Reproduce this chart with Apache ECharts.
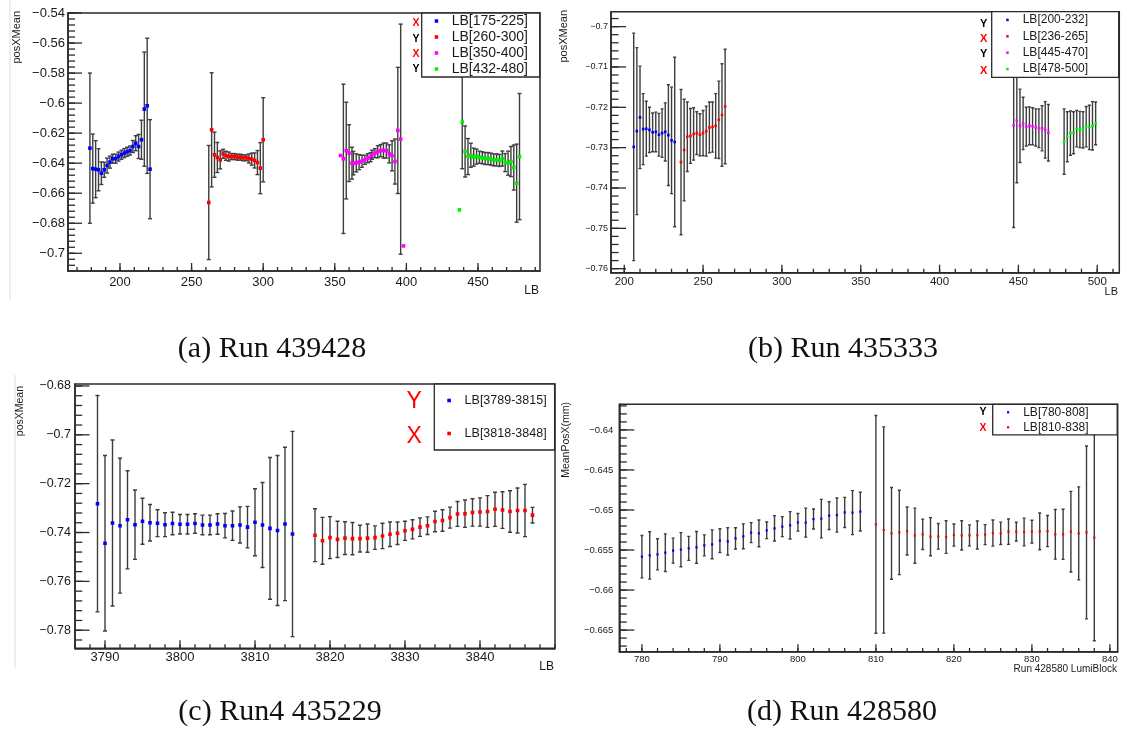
<!DOCTYPE html>
<html>
<head>
<meta charset="utf-8">
<script src="https://cdn.jsdelivr.net/npm/echarts@6/dist/echarts.min.js"></script>
<style>
  html, body { margin: 0; padding: 0; background: #fff; }
  #chart { width: 1127px; height: 742px; }
</style>
</head>
<body>
<div id="chart"></div>
<script>
// ---------- (a) Run 439428 ----------
const aBlueLB   = [179,181,183,185,187,189,191,193,195,197,199,201,203,205,207,209,211,213,215,217,219,221];
const aBlueMean = [-0.6300,-0.6436,-0.6440,-0.6444,-0.6467,-0.6444,-0.6416,-0.6393,-0.6370,-0.6370,-0.6356,-0.6344,-0.6333,-0.6324,-0.6316,-0.6289,-0.6267,-0.6289,-0.6244,-0.6040,-0.6018,-0.6440];
const aBlueErr  = [0.050,0.023,0.019,0.014,0.0075,0.005,0.005,0.004,0.003,0.003,0.003,0.003,0.003,0.003,0.003,0.004,0.005,0.008,0.013,0.038,0.045,0.033];

const aRedLB   = [262,264,266,268,270,272,274,276,278,280,282,284,286,288,290,292,294,296,298,300];
const aRedMean = [-0.6662,-0.6178,-0.6344,-0.6362,-0.6378,-0.6338,-0.6351,-0.6356,-0.6356,-0.6356,-0.6360,-0.6360,-0.6364,-0.6364,-0.6369,-0.6373,-0.6382,-0.6396,-0.6433,-0.6244];
const aRedErr  = [0.038,0.038,0.015,0.010,0.006,0.003,0.003,0.003,0.002,0.002,0.002,0.002,0.002,0.002,0.003,0.004,0.005,0.008,0.017,0.028];

const aMagLB   = [354,356,358,360,362,363,365,367,369,371,373,375,376,378,380,382,384,386,388,390,392,394,396,398];
const aMagMean = [-0.6349,-0.6371,-0.6316,-0.6333,-0.6400,-0.6400,-0.6398,-0.6393,-0.6387,-0.6378,-0.6367,-0.6360,-0.6344,-0.6333,-0.6324,-0.6316,-0.6316,-0.6316,-0.6338,-0.6351,-0.6389,-0.6182,-0.6240,-0.6951];
const aMagErr  = [0,0.0497,0.0322,0.0189,0.0106,0.0078,0.006,0.005,0.004,0.003,0.003,0.003,0.003,0.003,0.004,0.004,0.005,0.005,0.006,0.010,0.015,0.042,0.0766,0];

const aGreenLB   = [437,439,441,443,445,447,449,451,453,455,457,459,461,463,465,467,469,471,473,475,477,479];
const aGreenMean = [-0.6711,-0.6127,-0.6322,-0.6356,-0.6347,-0.6360,-0.6356,-0.6360,-0.6364,-0.6369,-0.6369,-0.6373,-0.6378,-0.6378,-0.6382,-0.6369,-0.6396,-0.6400,-0.6389,-0.6429,-0.6533,-0.6356];
const aGreenErr  = [0,0.031,0.017,0.012,0.008,0.006,0.005,0.004,0.004,0.004,0.004,0.004,0.004,0.004,0.004,0.005,0.006,0.008,0.010,0.015,0.026,0.042];

const aXTicks = [200,250,300,350,400,450];
const aYTicks = [-0.70,-0.68,-0.66,-0.64,-0.62,-0.60,-0.58,-0.56,-0.54];

// ---------- (b) Run 435333 ----------
const bBlueLB   = [206,208,210,212,214,216,218,220,222,224,226,228,230,232];
const bBlueMean = [-0.7298,-0.7259,-0.7225,-0.7254,-0.7253,-0.7256,-0.7262,-0.7261,-0.7268,-0.7264,-0.7261,-0.7269,-0.7282,-0.7286];
const bBlueErr  = [0.0282,0.0207,0.0127,0.0088,0.0068,0.0056,0.0048,0.0049,0.0053,0.0060,0.0072,0.0125,0.0132,0.0210];

const bRedLB   = [236,238,240,242,244,246,248,250,252,254,256,258,260,262,264];
const bRedMean = [-0.7336,-0.7306,-0.7273,-0.7271,-0.7266,-0.7264,-0.7268,-0.7264,-0.7259,-0.7250,-0.7249,-0.7246,-0.7231,-0.7219,-0.7198];
const bRedErr  = [0.0180,0.0126,0.0086,0.0068,0.0065,0.0053,0.0052,0.0056,0.0062,0.0063,0.0062,0.0080,0.0096,0.0127,0.0142];

const bMagLB   = [447,449,451,453,455,457,459,461,463,465,467,469];
const bMagMean = [-0.7245,-0.7233,-0.7246,-0.7240,-0.7248,-0.7246,-0.7247,-0.7250,-0.7252,-0.7252,-0.7256,-0.7263];
const bMagErr  = [0.0253,0.0154,0.0091,0.0065,0.0048,0.0047,0.0046,0.0046,0.0048,0.0056,0.0070,0.0070];

const bGreenLB   = [479,481,483,485,487,489,491,493,495,497,499];
const bGreenMean = [-0.7285,-0.7273,-0.7264,-0.7263,-0.7253,-0.7255,-0.7256,-0.7248,-0.7250,-0.7246,-0.7240];
const bGreenErr  = [0.0081,0.0062,0.0055,0.0052,0.0045,0.0045,0.0045,0.0050,0.0055,0.0060,0.0053];

const bXTicks = [200,250,300,350,400,450,500];
const bYTicks = [-0.76,-0.75,-0.74,-0.73,-0.72,-0.71,-0.70];

// ---------- (c) Run4 435229 ----------
const cBlueLB   = [3789,3790,3791,3792,3793,3794,3795,3796,3797,3798,3799,3800,3801,3802,3803,3804,3805,3806,3807,3808,3809,3810,3811,3812,3813,3814,3815];
const cBlueMean = [-0.7282,-0.7444,-0.7361,-0.7372,-0.7348,-0.7368,-0.7354,-0.7360,-0.7362,-0.7368,-0.7363,-0.7366,-0.7366,-0.7363,-0.7369,-0.7369,-0.7365,-0.7372,-0.7372,-0.7369,-0.7378,-0.7358,-0.7369,-0.7383,-0.7392,-0.7365,-0.7406];
const cBlueErr  = [0.0443,0.0359,0.0340,0.0276,0.0201,0.0142,0.0094,0.0075,0.0055,0.0049,0.0046,0.0040,0.0040,0.0040,0.0040,0.0040,0.0042,0.0050,0.0060,0.0074,0.0085,0.0137,0.0174,0.0290,0.0307,0.0314,0.0420];

const cRedLB   = [3818,3819,3820,3821,3822,3823,3824,3825,3826,3827,3828,3829,3830,3831,3832,3833,3834,3835,3836,3837,3838,3839,3840,3841,3842,3843,3844,3845,3846,3847];
const cRedMean = [-0.7411,-0.7434,-0.7421,-0.7428,-0.7423,-0.7425,-0.7425,-0.7423,-0.7421,-0.7414,-0.7407,-0.7403,-0.7393,-0.7387,-0.7378,-0.7372,-0.7355,-0.7351,-0.7339,-0.7324,-0.7323,-0.7318,-0.7316,-0.7314,-0.7305,-0.7308,-0.7314,-0.7310,-0.7310,-0.7329];
const cRedErr  = [0.0108,0.0096,0.0086,0.0074,0.0067,0.0066,0.0055,0.0058,0.0048,0.0052,0.0050,0.0046,0.0039,0.0039,0.0038,0.0036,0.0042,0.0044,0.0043,0.0051,0.0056,0.0056,0.0058,0.0065,0.0070,0.0075,0.0085,0.0092,0.0107,0.0032];

const cXTicks = [3790,3800,3810,3820,3830,3840];
const cYTicks = [-0.78,-0.76,-0.74,-0.72,-0.70,-0.68];

// ---------- (d) Run 428580 ----------
const dBlueLB   = [780,781,782,783,784,785,786,787,788,789,790,791,792,793,794,795,796,797,798,799,800,801,802,803,804,805,806,807,808];
const dBlueMean = [-0.65583,-0.65567,-0.65554,-0.65533,-0.65508,-0.65496,-0.65479,-0.65467,-0.65442,-0.65429,-0.65383,-0.65392,-0.65354,-0.65329,-0.65283,-0.65292,-0.65254,-0.65229,-0.65208,-0.65192,-0.65154,-0.65158,-0.65113,-0.65108,-0.65071,-0.65063,-0.65030,-0.65033,-0.65021];
const dBlueErr  = [0.00265,0.00296,0.00194,0.00235,0.00156,0.00213,0.00150,0.00198,0.00131,0.00181,0.00148,0.00171,0.00133,0.00156,0.00125,0.00167,0.00104,0.00158,0.00125,0.00171,0.00110,0.00181,0.00125,0.00240,0.00173,0.00213,0.00188,0.00275,0.00242];

const dRedLB   = [810,811,812,813,814,815,816,817,818,819,820,821,822,823,824,825,826,827,828,829,830,831,832,833,834,835,836,837,838];
const dRedMean = [-0.65179,-0.65250,-0.65292,-0.65280,-0.65263,-0.65321,-0.65304,-0.65333,-0.65329,-0.65338,-0.65313,-0.65317,-0.65317,-0.65313,-0.65308,-0.65288,-0.65292,-0.65271,-0.65271,-0.65275,-0.65271,-0.65267,-0.65263,-0.65304,-0.65304,-0.65271,-0.65292,-0.65280,-0.65346];
const dRedErr  = [0.01360,0.01288,0.00573,0.00527,0.00300,0.00344,0.00190,0.00238,0.00160,0.00204,0.00138,0.00183,0.00131,0.00175,0.00125,0.00163,0.00140,0.00158,0.00117,0.00173,0.00142,0.00229,0.00194,0.00310,0.00313,0.00504,0.00581,0.01080,0.01288];

const dXTicks = [780,790,800,810,820,830,840];
const dYTicks = [-0.665,-0.66,-0.655,-0.65,-0.645,-0.64];

// ---------- drawing ----------
const SANS  = '"Liberation Sans", Arial, Helvetica, sans-serif';
const SERIF = '"Liberation Serif", "DejaVu Serif", serif';
const INK = '#2a2a2a';
const fmtY = v => (v < 0 ? '\u2212' : '') + String(+Math.abs(v).toFixed(4));
const fmtX = v => String(+(+v).toFixed(3));

function steps(from, to, step) {
  const out = [];
  const n = Math.round((to - from) / step);
  for (let k = 0; k <= n; k++) out.push(+(from + k * step).toFixed(6));
  return out;
}
const rows = (lb, mean, err) => lb.map((x, i) => [x, mean[i], err[i]]);

// points with symmetric vertical error bars and small end caps
function errorBars(st) {
  return function (params, api) {
    const x = api.value(0), y = api.value(1), e = api.value(2);
    const p = api.coord([x, y]);
    const kids = [];
    if (e > 0) {
      const t = api.coord([x, y + e]);
      const b = api.coord([x, y - e]);
      const ls = { stroke: '#3d3d3d', lineWidth: st.barWidth };
      kids.push({ type: 'line', shape: { x1: p[0], y1: t[1], x2: p[0], y2: b[1] }, style: ls });
      kids.push({ type: 'line', shape: { x1: p[0] - st.cap, y1: t[1], x2: p[0] + st.cap, y2: t[1] }, style: ls });
      kids.push({ type: 'line', shape: { x1: p[0] - st.cap, y1: b[1], x2: p[0] + st.cap, y2: b[1] }, style: ls });
    }
    const m = st.marker;
    kids.push({ type: 'rect', shape: { x: p[0] - m / 2, y: p[1] - m / 2, width: m, height: m },
                style: { fill: api.visual('color') } });
    return { type: 'group', children: kids };
  };
}

const option = {
  animation: false,
  backgroundColor: '#fff',
  grid: [], xAxis: [], yAxis: [], series: [], legend: []
};
const panels = [];

function addPanel(p) {
  const gi = option.grid.length;
  panels.push(p);
  option.grid.push({ left: p.box[0], top: p.box[1], width: p.box[2], height: p.box[3],
    show: true, borderColor: INK, borderWidth: 1.5, backgroundColor: 'rgba(0,0,0,0)' });
  const line = { show: true, onZero: false, lineStyle: { color: INK, width: 1.5 } };
  option.xAxis.push({ type: 'value', gridIndex: gi, position: 'bottom', min: p.xr[0], max: p.xr[1],
    axisLine: line, splitLine: { show: false }, axisTick: { show: false },
    axisLabel: { customValues: p.xMajor, formatter: fmtX, margin: p.xm, color: '#1a1a1a',
                 fontFamily: SANS, fontSize: p.xf } });
  option.yAxis.push({ type: 'value', gridIndex: gi, position: 'left', min: p.yr[0], max: p.yr[1],
    axisLine: line, splitLine: { show: false }, axisTick: { show: false },
    axisLabel: { customValues: p.yMajor, formatter: fmtY, margin: p.ym, color: '#1a1a1a',
                 fontFamily: SANS, fontSize: p.yf } });

  const render = errorBars(p.style);
  p.series.forEach(s => {
    option.series.push({ type: 'custom', name: s.name, xAxisIndex: gi, yAxisIndex: gi,
      data: s.data, encode: { x: 0, y: 1 }, itemStyle: { color: s.color },
      renderItem: render, clip: true, z: 3 });
  });

  const L = p.legend;
  option.legend.push({
    data: p.series.map(s => s.name), orient: 'vertical', left: L.left, top: L.top,
    padding: [L.padT, L.padR, 0, L.padL], itemGap: 0, itemWidth: L.mk, itemHeight: L.mk,
    icon: 'rect', selectedMode: false, backgroundColor: '#fff', borderColor: INK, borderWidth: 1.3,
    textStyle: { color: '#1a1a1a', fontFamily: SANS, fontSize: L.font, lineHeight: L.row,
                 width: L.textW, padding: [0, 0, 0, L.tpl] },
    z: 10
  });
}

const BLUE = '#0000ff', RED = '#ff0000', MAG = '#ff00ff', GREEN = '#00ee00';

addPanel({
  box: [68, 13, 472, 258], xr: [163.7, 493.3], yr: [-0.7118, -0.54],
  xMajor: aXTicks, xMinor: steps(170, 490, 10), yMajor: aYTicks, yMinor: steps(-0.708, -0.54, 0.004),
  xt: 8, yt: 14, xm: 5, ym: 3, xf: 13, yf: 13,
  style: { marker: 3.6, cap: 2, barWidth: 1.4 },
  series: [
    { name: 'LB[175-225]', color: BLUE,  data: rows(aBlueLB, aBlueMean, aBlueErr) },
    { name: 'LB[260-300]', color: RED,   data: rows(aRedLB, aRedMean, aRedErr) },
    { name: 'LB[350-400]', color: MAG,   data: rows(aMagLB, aMagMean, aMagErr) },
    { name: 'LB[432-480]', color: GREEN, data: rows(aGreenLB, aGreenMean, aGreenErr) }
  ],
  legend: { left: 421.7, top: 13, padT: 0, padL: 13, padR: 6, mk: 3.5, tpl: 8.5, textW: 82, font: 14, row: 16 }
});

addPanel({
  box: [611, 11.7, 508.3, 261], xr: [191.6, 514], yr: [-0.761, -0.6963],
  xMajor: bXTicks, xMinor: steps(200, 510, 10), yMajor: bYTicks, yMinor: steps(-0.76, -0.698, 0.002),
  xt: 8, yt: 15, xm: 3, ym: 3, xf: 11.5, yf: 9,
  style: { marker: 2.6, cap: 1.5, barWidth: 1.4 },
  series: [
    { name: 'LB[200-232]', color: BLUE,  data: rows(bBlueLB, bBlueMean, bBlueErr) },
    { name: 'LB[236-265]', color: RED,   data: rows(bRedLB, bRedMean, bRedErr) },
    { name: 'LB[445-470]', color: MAG,   data: rows(bMagLB, bMagMean, bMagErr) },
    { name: 'LB[478-500]', color: GREEN, data: rows(bGreenLB, bGreenMean, bGreenErr) }
  ],
  legend: { left: 991.7, top: 11.7, padT: 0, padL: 14.5, padR: 6, mk: 2.5, tpl: 9, textW: 90, font: 12, row: 16.4 }
});

addPanel({
  box: [75, 384, 480, 264.3], xr: [3786, 3850], yr: [-0.7874, -0.6792],
  xMajor: cXTicks, xMinor: steps(3786, 3850, 2), yMajor: cYTicks, yMinor: steps(-0.784, -0.68, 0.004),
  xt: 8, yt: 14.5, xm: 3, ym: 4, xf: 13, yf: 12.5,
  style: { marker: 3.6, cap: 2, barWidth: 1.4 },
  series: [
    { name: 'LB[3789-3815]', color: BLUE, data: rows(cBlueLB, cBlueMean, cBlueErr) },
    { name: 'LB[3818-3848]', color: RED,  data: rows(cRedLB, cRedMean, cRedErr) }
  ],
  legend: { left: 434.3, top: 384, padT: 0, padL: 13, padR: 4, mk: 3.6, tpl: 8.7, textW: 86, font: 12.5, row: 33 }
});

addPanel({
  box: [619.3, 404.3, 498.4, 247.4], xr: [777.1, 841], yr: [-0.6677, -0.6368],
  xMajor: dXTicks, xMinor: steps(778, 840, 2), yMajor: dYTicks, yMinor: steps(-0.667, -0.637, 0.001),
  xt: 7.5, yt: 15, xm: 3, ym: 6, xf: 9.5, yf: 9.5,
  style: { marker: 2.2, cap: 1.5, barWidth: 1.4 },
  series: [
    { name: 'LB[780-808]', color: BLUE, data: rows(dBlueLB, dBlueMean, dBlueErr) },
    { name: 'LB[810-838]', color: RED,  data: rows(dRedLB, dRedMean, dRedErr) }
  ],
  legend: { left: 992.7, top: 404.3, padT: 0.5, padL: 14.3, padR: 4, mk: 2.2, tpl: 9, textW: 90, font: 12, row: 15 }
});

// ---------- free text: axis titles, side tags, captions ----------
function txt(x, y, text, font, opts) {
  const o = opts || {};
  return { type: 'text', x: x, y: y, rotation: o.rot || 0, z: 20,
    style: { text: text, font: font, fill: o.color || '#1a1a1a',
             align: o.align || 'center', textAlign: o.align || 'center',
             verticalAlign: 'middle', textVerticalAlign: 'middle' } };
}
const R90 = Math.PI / 2;
const G = [];

// faint sub-figure edges
G.push({ type: 'line', shape: { x1: 10, y1: 0, x2: 10, y2: 300 }, style: { stroke: '#dddddd', lineWidth: 1 } });
G.push({ type: 'line', shape: { x1: 15, y1: 375, x2: 15, y2: 668 }, style: { stroke: '#dddddd', lineWidth: 1 } });

// axis titles
G.push(txt(17, 11, 'posXMean', `11px ${SANS}`, { rot: R90, align: 'right' }));
G.push(txt(539, 291, 'LB', `12px ${SANS}`, { align: 'right' }));
G.push(txt(563.5, 10, 'posXMean', `11px ${SANS}`, { rot: R90, align: 'right' }));
G.push(txt(1118, 292, 'LB', `11px ${SANS}`, { align: 'right' }));
G.push(txt(20.5, 386, 'posXMean', `10.5px ${SANS}`, { rot: R90, align: 'right' }));
G.push(txt(554, 667, 'LB', `12px ${SANS}`, { align: 'right' }));
G.push(txt(566.5, 402, 'MeanPosX(mm)', `10.5px ${SANS}`, { rot: R90, align: 'right' }));
G.push(txt(1117, 669, 'Run 428580 LumiBlock', `10px ${SANS}`, { align: 'right' }));

// X / Y tags beside the legends
const tagA = [['X', RED, 22.8], ['Y', '#000', 38.8], ['X', RED, 53.7], ['Y', '#000', 69.5]];
tagA.forEach(t => G.push(txt(416, t[2], t[0], `bold 10.5px ${SANS}`, { color: t[1] })));
const tagB = [['Y', '#000', 23.7], ['X', RED, 39.2], ['Y', '#000', 54.2], ['X', RED, 70.8]];
tagB.forEach(t => G.push(txt(983.7, t[2], t[0], `bold 11px ${SANS}`, { color: t[1] })));
G.push(txt(414.2, 401.7, 'Y', `23px ${SANS}`, { color: RED }));
G.push(txt(414.2, 436.7, 'X', `23px ${SANS}`, { color: RED }));
G.push(txt(983, 412.5, 'Y', `bold 10.5px ${SANS}`, { color: '#000' }));
G.push(txt(983, 427.8, 'X', `bold 10.5px ${SANS}`, { color: RED }));

// captions
G.push(txt(272, 349, '(a) Run 439428', `30px ${SERIF}`, { color: '#111' }));
G.push(txt(843, 349, '(b) Run 435333', `30px ${SERIF}`, { color: '#111' }));
G.push(txt(280, 712, '(c) Run4 435229', `30px ${SERIF}`, { color: '#111' }));
G.push(txt(842, 712, '(d) Run 428580', `30px ${SERIF}`, { color: '#111' }));

const chart = echarts.init(document.getElementById('chart'), null, { renderer: 'canvas' });
chart.setOption(option);

// inward axis ticks (long at labelled values, short in between), placed through each grid's axes
panels.forEach((p, gi) => {
  const ls = () => ({ stroke: INK, lineWidth: 1.3 });
  const left = p.box[0];
  const bottom = p.box[1] + p.box[3];
  const xTick = (v, len) => {
    const q = chart.convertToPixel({ gridIndex: gi }, [v, p.yr[0]]);
    if (q) G.push({ type: 'line', z: 50, shape: { x1: q[0], y1: bottom, x2: q[0], y2: bottom - len }, style: ls() });
  };
  const yTick = (v, len) => {
    const q = chart.convertToPixel({ gridIndex: gi }, [p.xr[0], v]);
    if (q) G.push({ type: 'line', z: 50, shape: { x1: left, y1: q[1], x2: left + len, y2: q[1] }, style: ls() });
  };
  p.xMinor.forEach(v => xTick(v, p.xt / 2));
  p.xMajor.forEach(v => xTick(v, p.xt));
  p.yMinor.forEach(v => yTick(v, p.yt / 2));
  p.yMajor.forEach(v => yTick(v, p.yt));
});

chart.setOption({ graphic: { elements: G } });
</script>
</body>
</html>
